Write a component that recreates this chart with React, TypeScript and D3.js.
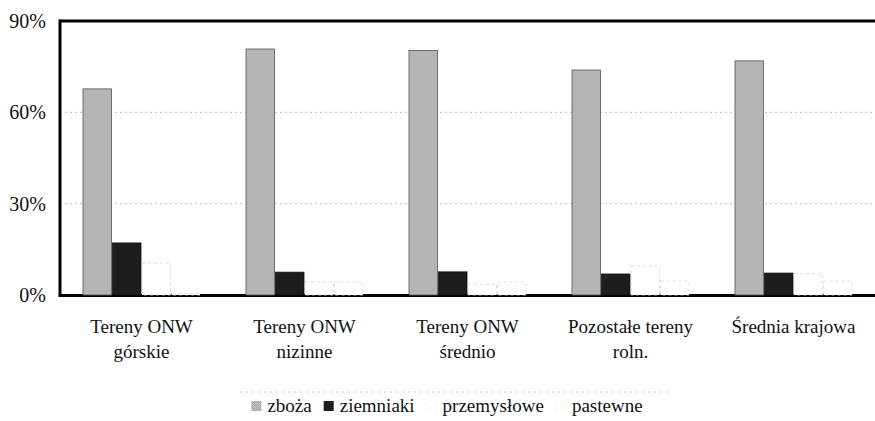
import React from 'react';
import * as d3 from 'd3';

// kategorie terenów (etykiety dwuwierszowe)
const categories = [
    ['Tereny ONW', 'górskie'],
    ['Tereny ONW', 'nizinne'],
    ['Tereny ONW', 'średnio'],
    ['Pozostałe tereny', 'roln.'],
    ['Średnia krajowa'],
];
const series = ['zboża', 'ziemniaki', 'przemysłowe', 'pastewne'];

// udział upraw w %
const zboza = [67.7, 80.8, 80.3, 73.9, 76.9];
const ziemniaki = [17.1, 7.5, 7.6, 6.9, 7.2];
const przemyslowe = [10.5, 4.3, 3.5, 9.5, 7.0];
const pastewne = [0.5, 4.3, 4.3, 4.6, 4.6];
const yTicks = [0, 30, 60, 90];

const values = [zboza, ziemniaki, przemyslowe, pastewne];

const W = 875;
const H = 421;
const margin = { top: 21, right: 0, bottom: 126, left: 60 };
const FONT = 'Liberation Serif';

const measure = (() => {
    const ctx = document.createElement('canvas').getContext('2d');
    return (s: string, size: number) => {
        if (!ctx) return s.length * size * 0.45;
        ctx.font = `${size}px "${FONT}"`;
        return ctx.measureText(s).width;
    };
})();

const App: React.FC = () => {
    const x0 = d3.scaleBand<number>()
        .domain(d3.range(categories.length))
        .range([margin.left, W - margin.right])
        .paddingInner(0.276)
        .paddingOuter(0.138);

    const x1 = d3.scaleBand<string>()
        .domain(series)
        .range([0, x0.bandwidth()]);

    const y = d3.scaleLinear()
        .domain([0, 90])
        .range([H - margin.bottom, margin.top]);

    const fills: Record<string, string> = {
        'zboża': 'url(#dither)',
        'ziemniaki': '#1d1d1d',
        'przemysłowe': '#fff',
        'pastewne': '#fff',
    };
    const strokes: Record<string, string> = {
        'zboża': '#555',
        'ziemniaki': '#111',
        'przemysłowe': '#d0d0d0',
        'pastewne': '#d8d8d8',
    };

    // legenda - pozycje liczone z szerokości tekstu
    const legSize = 19;
    const sw = 10;
    const items = series.map(s => ({ s, w: sw + 6 + measure(s, legSize) }));
    const gap = 12;
    const totalW = d3.sum(items, d => d.w) + gap * (items.length - 1);
    let lx = 447 - totalW / 2;
    const legend = items.map(d => {
        const r = { ...d, x: lx };
        lx += d.w + gap;
        return r;
    });
    const legY = 406;

    return (
        <svg width={W} height={H} style={{ position: 'absolute', left: 0, top: 0, background: '#fff' }}>
            <defs>
                <pattern id="dither" width="2" height="2" patternUnits="userSpaceOnUse">
                    <rect width="2" height="2" fill="#efefef" />
                    <rect width="1" height="1" fill="#7a7a7a" />
                    <rect x="1" y="1" width="1" height="1" fill="#7a7a7a" />
                </pattern>
            </defs>

            {/* linie siatki */}
            {yTicks.filter(t => t > 0 && t < 90).map(t => (
                <line key={t} x1={margin.left} x2={W} y1={y(t)} y2={y(t)}
                    stroke="#bbb" strokeWidth={1} strokeDasharray="2,3" />
            ))}

            {/* oś X */}
            <line x1={margin.left} x2={W} y1={y(0) + 0.5} y2={y(0) + 0.5} stroke="#000" strokeWidth={3} />

            {/* słupki */}
            {categories.map((c, i) => (
                <g key={i} transform={`translate(${x0(i)},0)`}>
                    {series.map((s, j) => (
                        <rect key={s}
                            x={x1(s)! + 0.5}
                            y={y(values[j][i])}
                            width={x1.bandwidth() - 1}
                            height={y(0) - y(values[j][i])}
                            fill={fills[s]}
                            stroke={strokes[s]}
                            strokeWidth={0.8}
                            strokeDasharray={j >= 2 ? '3,3' : undefined} />
                    ))}
                </g>
            ))}

            {/* ramka: góra i lewa oś */}
            <line x1={margin.left} x2={W} y1={y(90)} y2={y(90)} stroke="#000" strokeWidth={3} />
            <line x1={margin.left} x2={margin.left} y1={y(90) - 1.5} y2={y(0) + 2} stroke="#000" strokeWidth={3} />

            {/* etykiety osi Y */}
            {yTicks.map(t => (
                <text key={t} x={46} y={y(t) + 7} textAnchor="end" fontSize={20} fontFamily={FONT} fill="#111">{t}%</text>
            ))}

            {/* etykiety kategorii */}
            {categories.map((c, i) => (
                <text key={i} textAnchor="middle" fontSize={19} fontFamily={FONT} fill="#111">
                    {c.map((line, k) => (
                        <tspan key={k} x={x0(i)! + x0.bandwidth() / 2} y={333 + k * 25}>{line}</tspan>
                    ))}
                </text>
            ))}

            {/* legenda */}
            <line x1={240} x2={668} y1={392} y2={392} stroke="#ccc" strokeWidth={1} strokeDasharray="2,4" />
            {legend.map((d, j) => (
                <g key={d.s} transform={`translate(${d.x},${legY})`}>
                    <rect x={0} y={-5} width={sw} height={sw} fill={fills[d.s]}
                        stroke={j >= 2 ? '#e4e4e4' : 'none'} strokeWidth={0.6} strokeDasharray={j >= 2 ? '2,2' : undefined} />
                    <text x={sw + 6} y={6} fontSize={legSize} fontFamily={FONT} fill="#111">{d.s}</text>
                </g>
            ))}
        </svg>
    );
};

export default App;
